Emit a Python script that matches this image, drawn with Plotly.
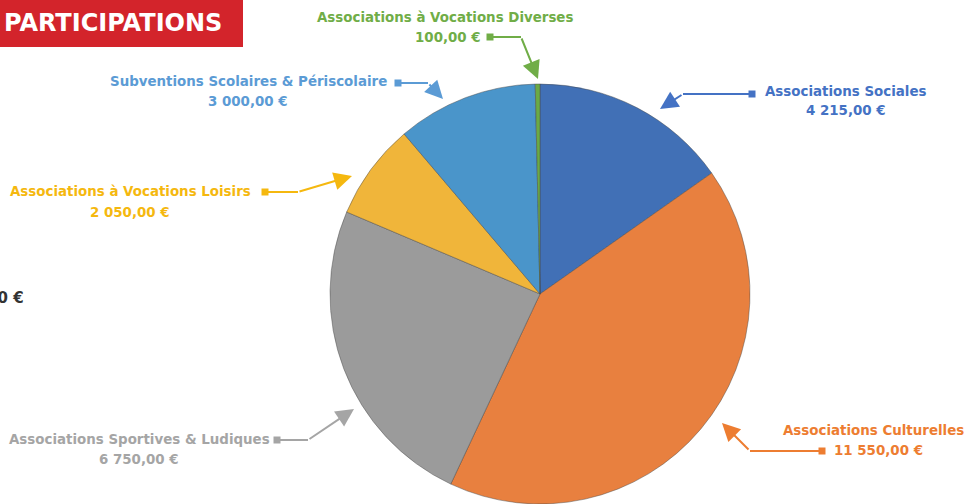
import plotly.graph_objects as go

W, H = 966, 504

categories = [
    "Associations Sociales",
    "Associations Culturelles",
    "Associations Sportives & Ludiques",
    "Associations à Vocations Loisirs",
    "Subventions Scolaires & Périscolaire",
    "Associations à Vocations Diverses",
]
values = [4215, 11550, 6750, 2050, 3000, 100]
slice_colors = ["#4170B6", "#E8803F", "#9B9B9B", "#F0B53A", "#4A95CA", "#6AAA45"]
text_colors = ["#4472C4", "#ED7D31", "#A5A5A5", "#F5B80F", "#5B9BD5", "#70AD47"]
title_text = "PARTICIPATIONS"


def fmt(v):
    s = f"{v:,.2f}".replace(",", " ").replace(".", ",")
    return s + " €"


total = sum(values)

FONT = "DejaVu Sans"
FS = 13.4


def px(x):
    return x / W


def py(y):
    return 1 - y / H


fig = go.Figure()
fig.add_trace(go.Pie(
    labels=categories,
    values=values,
    sort=False,
    direction="clockwise",
    rotation=0,
    textinfo="none",
    hoverinfo="label+value",
    marker=dict(colors=slice_colors, line=dict(color="rgba(70,70,70,0.45)", width=1)),
    domain=dict(x=[px(330), px(750)], y=[py(504), py(84)]),
    showlegend=False,
))

layout_pos = [
    dict(tx=846, t1=91, t2x=846, t2=110, sq=(752, 94), elbow=(683, 94), tip=(660, 109)),
    dict(tx=873, t1=430, t2x=875, t2=450, sq=(822, 451), elbow=(750, 451), tip=(722, 423), v_align="left"),
    dict(tx=139, t1=439, t2x=139, t2=459, sq=(277, 440), elbow=(308, 440), tip=(354, 409)),
    dict(tx=130, t1=191, t2x=130, t2=212, sq=(265, 192), elbow=(298, 192), tip=(352, 176)),
    dict(tx=248, t1=82, t2x=248, t2=102, sq=(398, 83), elbow=(428, 83), tip=(443, 99)),
    dict(tx=445, t1=18, t2x=448, t2=38, sq=(490, 37), elbow=(521, 37), tip=(538, 79)),
]

annotations = []
shapes = []
for cat, val, col, pos in zip(categories, values, text_colors, layout_pos):
    annotations.append(dict(
        x=px(pos["tx"]), y=py(pos["t1"]), xref="paper", yref="paper",
        text=f"<b>{cat}</b>", showarrow=False, xanchor="center", yanchor="middle",
        font=dict(family=FONT, size=FS, color=col),
    ))
    if pos.get("v_align") == "left":
        annotations.append(dict(
            x=px(832), y=py(pos["t2"]), xref="paper", yref="paper",
            text=f"<b>{fmt(val)}</b>", showarrow=False, xanchor="left", yanchor="middle",
            font=dict(family=FONT, size=FS, color=col),
        ))
    else:
        annotations.append(dict(
            x=px(pos["t2x"]), y=py(pos["t2"]), xref="paper", yref="paper",
            text=f"<b>{fmt(val)}</b>", showarrow=False, xanchor="center", yanchor="middle",
            font=dict(family=FONT, size=FS, color=col),
        ))
    sx, sy = pos["sq"]
    ex, ey = pos["elbow"]
    tx, ty = pos["tip"]
    shapes.append(dict(type="rect", xref="paper", yref="paper",
                       x0=px(sx - 3.5), x1=px(sx + 3.5), y0=py(sy + 3.5), y1=py(sy - 3.5),
                       fillcolor=col, line=dict(width=0)))
    shapes.append(dict(type="line", xref="paper", yref="paper",
                       x0=px(sx), y0=py(sy), x1=px(ex), y1=py(ey),
                       line=dict(color=col, width=2)))
    annotations.append(dict(
        x=px(tx), y=py(ty), xref="paper", yref="paper",
        ax=ex - tx, ay=ey - ty, axref="pixel", ayref="pixel",
        showarrow=True, arrowhead=2, arrowsize=1.8, arrowwidth=2, arrowcolor=col, text="",
    ))

shapes.append(dict(type="rect", xref="paper", yref="paper",
                   x0=px(0), x1=px(243), y0=py(47), y1=py(0),
                   fillcolor="#D3242B", line=dict(width=0)))
annotations.append(dict(
    x=px(2), y=py(23), xref="paper", yref="paper", text=f"<b>{title_text}</b>",
    showarrow=False, xanchor="left", yanchor="middle",
    font=dict(family=FONT, size=24, color="white"),
))
annotations.append(dict(
    x=px(26), y=py(298), xref="paper", yref="paper", text=f"<b>{fmt(total)}</b>",
    showarrow=False, xanchor="right", yanchor="middle",
    font=dict(family=FONT, size=15, color="#333333"),
))

fig.update_layout(
    width=W, height=H,
    margin=dict(l=0, r=0, t=0, b=0),
    paper_bgcolor="white", plot_bgcolor="white",
    annotations=annotations, shapes=shapes,
)

fig.write_html("out.html", config={"displayModeBar": False},
               post_script="document.body.style.margin='0px';")
